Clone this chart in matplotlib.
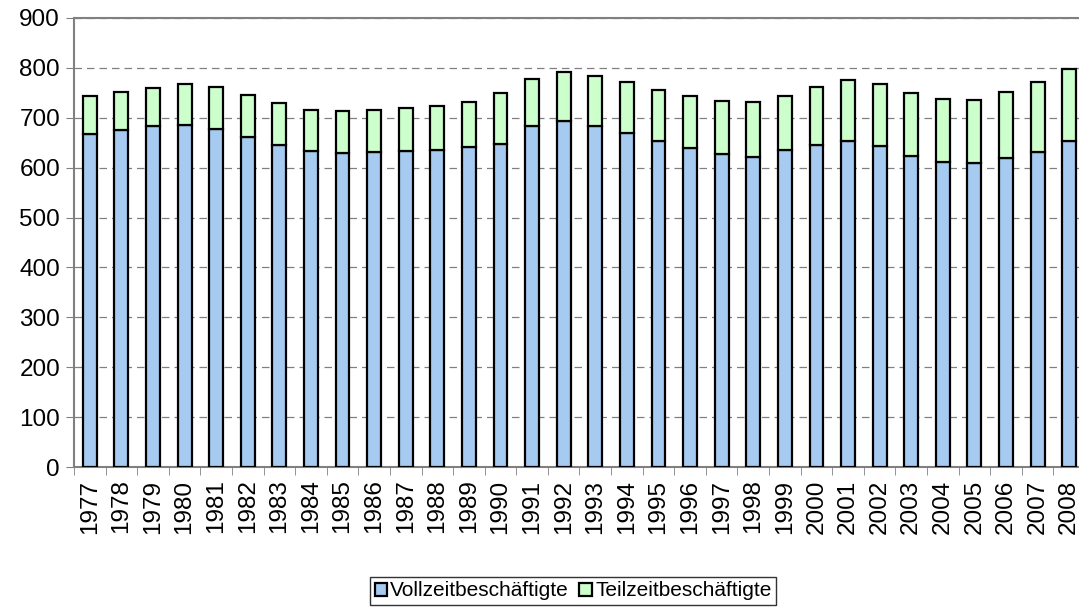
import matplotlib.pyplot as plt
import numpy as np
from matplotlib.ticker import FixedLocator

years = [str(y) for y in range(1977, 2009)]
vollzeit = [668, 675, 683, 686, 678, 661, 646, 633, 630, 631, 633, 636, 641, 647, 683, 693,
            683, 670, 654, 639, 627, 622, 635, 646, 653, 644, 623, 612, 610, 619, 632, 653]
gesamt = [743, 752, 760, 767, 761, 745, 729, 716, 714, 716, 719, 723, 731, 749, 778, 791,
          783, 771, 755, 743, 733, 732, 744, 762, 775, 768, 749, 738, 736, 751, 771, 797]
teilzeit = [g - v for g, v in zip(gesamt, vollzeit)]

plt.rcParams['font.family'] = ['Liberation Sans', 'DejaVu Sans']

fig = plt.figure(figsize=(10.79, 6.09), dpi=100)
ax = fig.add_axes([74 / 1079, (609 - 467) / 609, (1085 - 74) / 1079, (467 - 18) / 609])

x = np.arange(len(years))
ax.bar(x, vollzeit, width=0.44, color='#a6caf0', edgecolor='black', linewidth=1.6,
       label='Vollzeitbeschäftigte', zorder=3)
ax.bar(x, teilzeit, bottom=vollzeit, width=0.44, color='#ccffcc', edgecolor='black',
       linewidth=1.6, label='Teilzeitbeschäftigte', zorder=3)

ax.set_xlim(-0.5, len(years) - 0.5)
ax.set_ylim(0, 900)
ax.set_yticks(range(0, 901, 100))
ax.tick_params(axis='y', labelsize=17.5, length=6, color='#808080', direction='out', pad=4)
ax.set_xticks(x)
ax.set_xticklabels(years, rotation=90, fontsize=17.5)
ax.tick_params(axis='x', which='major', length=0, pad=9)
ax.xaxis.set_minor_locator(FixedLocator(np.arange(-0.5, len(years), 1.0)))
ax.tick_params(axis='x', which='minor', length=6, color='#808080')

ax.grid(True, axis='y', color='#808080', linestyle=(0, (6, 4)), linewidth=0.9, zorder=0)
for side in ['left', 'bottom', 'top']:
    ax.spines[side].set_color('#808080')
    ax.spines[side].set_linewidth(1.5)
ax.spines['right'].set_visible(False)

fig.legend(loc='center', bbox_to_anchor=(573 / 1079, 1 - 591 / 609), ncol=2, fontsize=15,
           frameon=True, fancybox=False, edgecolor='black', handlelength=0.6, handleheight=0.6,
           handletextpad=0.15, columnspacing=0.5, borderpad=0.2, borderaxespad=0)

fig.savefig('out.png', dpi=100)
